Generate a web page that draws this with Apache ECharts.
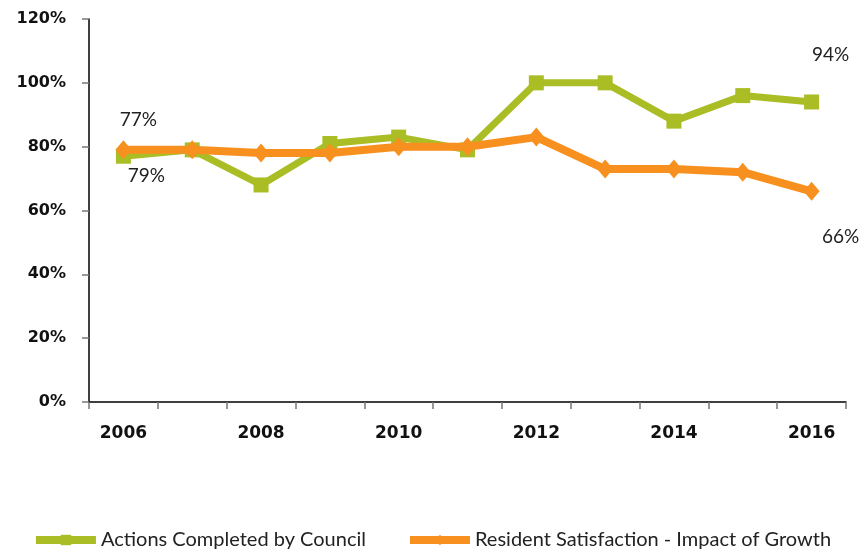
<!DOCTYPE html>
<html>
<head>
<meta charset="utf-8">
<script src="https://cdn.jsdelivr.net/npm/echarts@6/dist/echarts.min.js"></script>
<style>
  html, body { margin: 0; padding: 0; background: #fff; }
  #chart { width: 863px; height: 549px; }
</style>
</head>
<body>
<div id="chart"></div>
<script>
const years = ['2006', '2007', '2008', '2009', '2010', '2011', '2012', '2013', '2014', '2015', '2016'];
const actionsCompleted = [77, 79, 68, 81, 83, 79, 100, 100, 88, 96, 94];
const residentSatisfaction = [79, 79, 78, 78, 80, 80, 83, 73, 73, 72, 66];
const seriesNames = ['Actions Completed by Council', 'Resident Satisfaction - Impact of Growth'];

const GREEN = '#AABD24';
const ORANGE = '#F7901F';
const AXIS_FONT = 'DejaVu Sans';
const TEXT_FONT = 'Lato';

// Value labels appear on the first and last points only,
// nudged away from the lines so the two series don't collide.
function withEndLabels(values, firstOffset, lastOffset) {
  return values.map(function (v, i) {
    const isFirst = i === 0;
    const isLast = i === values.length - 1;
    if (!isFirst && !isLast) return v;
    return {
      value: v,
      label: {
        show: true,
        position: 'inside',
        offset: isFirst ? firstOffset : lastOffset,
        fontFamily: TEXT_FONT,
        fontWeight: 'normal',
        fontSize: 19,
        color: '#222',
        formatter: '{c}%'
      }
    };
  });
}

const chart = echarts.init(document.getElementById('chart'), null, { renderer: 'canvas' });
chart.setOption({
  animation: false,
  backgroundColor: '#fff',
  grid: { left: 89, right: 17, top: 19, bottom: 147, containLabel: false },
  legend: {
    top: 525,
    left: 'center',
    itemWidth: 60,
    itemHeight: 13,
    itemGap: 40,
    lineStyle: { width: 8 },
    textStyle: { fontFamily: TEXT_FONT, fontSize: 20, color: '#222' },
    data: seriesNames
  },
  xAxis: {
    type: 'category',
    data: years,
    boundaryGap: true,
    axisLine: { lineStyle: { color: '#000', width: 1.5 } },
    axisTick: { show: true, interval: 0, length: 7, lineStyle: { color: '#777', width: 1.5 } },
    axisLabel: {
      interval: 1,
      margin: 23,
      fontFamily: AXIS_FONT,
      fontWeight: 'bold',
      fontSize: 17,
      color: '#111'
    },
    splitLine: { show: false }
  },
  yAxis: {
    type: 'value',
    min: 0,
    max: 120,
    interval: 20,
    axisLine: { show: true, lineStyle: { color: '#000', width: 1.5 } },
    axisTick: { show: true, length: 7, lineStyle: { color: '#777', width: 1.5 } },
    axisLabel: {
      margin: 23,
      fontFamily: AXIS_FONT,
      fontWeight: 'bold',
      fontSize: 16,
      color: '#111',
      formatter: '{value}%'
    },
    splitLine: { show: false }
  },
  series: [
    {
      name: seriesNames[0],
      type: 'line',
      data: withEndLabels(actionsCompleted, [15, -36], [19, -47]),
      symbol: 'rect',
      symbolSize: 15,
      lineStyle: { color: GREEN, width: 7 },
      itemStyle: { color: GREEN },
      z: 2
    },
    {
      name: seriesNames[1],
      type: 'line',
      data: withEndLabels(residentSatisfaction, [23, 26], [29, 46]),
      symbol: 'diamond',
      symbolSize: [16, 19],
      lineStyle: { color: ORANGE, width: 8 },
      itemStyle: { color: ORANGE },
      z: 3
    }
  ]
});
</script>
</body>
</html>
